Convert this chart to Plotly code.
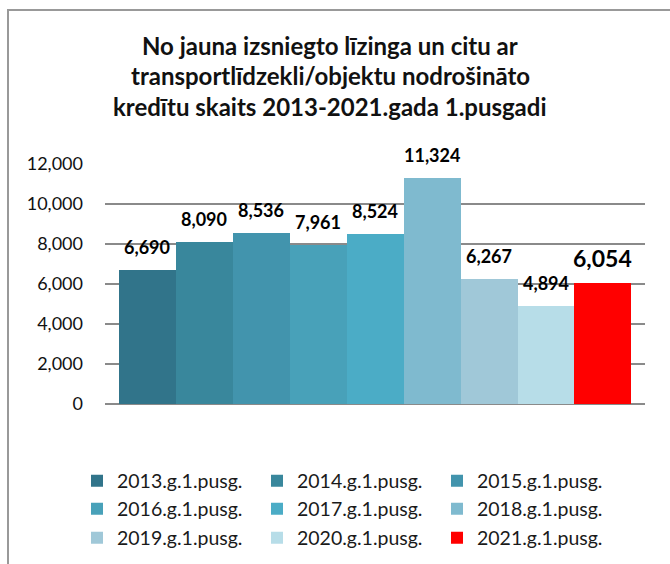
import plotly.graph_objects as go

categories = ["2013.g.1.pusg.", "2014.g.1.pusg.", "2015.g.1.pusg.", "2016.g.1.pusg.",
              "2017.g.1.pusg.", "2018.g.1.pusg.", "2019.g.1.pusg.", "2020.g.1.pusg.",
              "2021.g.1.pusg."]
values = [6690, 8090, 8536, 7961, 8524, 11324, 6267, 4894, 6054]
colors = ["#31748A", "#39879C", "#4294AD", "#48A1B9", "#4BACC6",
          "#7FBACF", "#A0C8D8", "#B7DDE8", "#FF0000"]
y_ticks = [0, 2000, 4000, 6000, 8000, 10000, 12000]
title_lines = ["No jauna izsniegto līzinga un citu ar",
               "transportlīdzekli/objektu nodrošināto",
               "kredītu skaits 2013-2021.gada 1.pusgadi"]

FONT = "Lato"
W, H = 670, 564
ML, MR, MT, MB = 105, 25, 164, 160
plot_w = W - ML - MR
plot_h = H - MT - MB


def py(ypx):
    return (H - MB - ypx) / plot_h


def px(xpx):
    return (xpx - ML) / plot_w


fig = go.Figure()
legend_cfg = {}
col_x = [77, 257, 437]
row_y = [481, 509, 538]
for i, (c, v, col) in enumerate(zip(categories, values, colors)):
    lname = "legend" if i == 0 else f"legend{i + 1}"
    fig.add_trace(go.Bar(
        x=[c], y=[v], name=c, marker=dict(color=col, line=dict(width=0)),
        legend=lname, showlegend=True, hoverinfo="x+y",
    ))
    legend_cfg[lname] = dict(
        orientation="v", x=px(col_x[i % 3]), xanchor="left",
        y=py(row_y[i // 3]), yanchor="middle", bgcolor="rgba(0,0,0,0)",
        font=dict(family=FONT, size=19.5, color="#1a1a1a"), itemclick=False,
        borderwidth=0,
    )
    last = i == len(values) - 1
    fig.add_annotation(
        x=c, y=v, text=f"{v:,}", showarrow=False,
        yshift=25 if last else 23, yanchor="middle",
        font=dict(family=FONT, size=23 if last else 18, color="#000000", weight="bold"),
    )

title_y = [45.5, 75.5, 106.5]
for t, ty in zip(title_lines, title_y):
    fig.add_annotation(
        x=px(330), y=py(ty), xref="paper", yref="paper", text=t, showarrow=False,
        xanchor="center", yanchor="middle",
        font=dict(family=FONT, size=24, color="#111111", weight="bold"),
    )

fig.update_layout(
    width=W, height=H,
    margin=dict(l=ML, r=MR, t=MT, b=MB, pad=0, autoexpand=False),
    paper_bgcolor="white", plot_bgcolor="white",
    barmode="overlay", bargap=0,
    xaxis=dict(type="category", categoryorder="array", categoryarray=categories,
               range=[-0.737, len(categories) - 1 + 0.737],
               showticklabels=False, showgrid=False, zeroline=False, showline=False,
               ticks=""),
    yaxis=dict(range=[0, 12000], tickvals=y_ticks, tickformat=",",
               showgrid=True, gridcolor="#8a8a8a", gridwidth=2,
               zeroline=True, zerolinecolor="#8a8a8a", zerolinewidth=2,
               showline=False, ticks="", ticklabelstandoff=21,
               tickfont=dict(family=FONT, size=18, color="#111111")),
    showlegend=True,
    **legend_cfg,
    shapes=[dict(type="rect", xref="paper", yref="paper",
                 x0=px(8), x1=px(675), y0=py(570), y1=py(10),
                 line=dict(color="#999999", width=2), fillcolor="rgba(0,0,0,0)",
                 layer="below")],
)

fig.write_html("out.html", config={"displayModeBar": False},
               post_script="document.body.style.margin='0';")
